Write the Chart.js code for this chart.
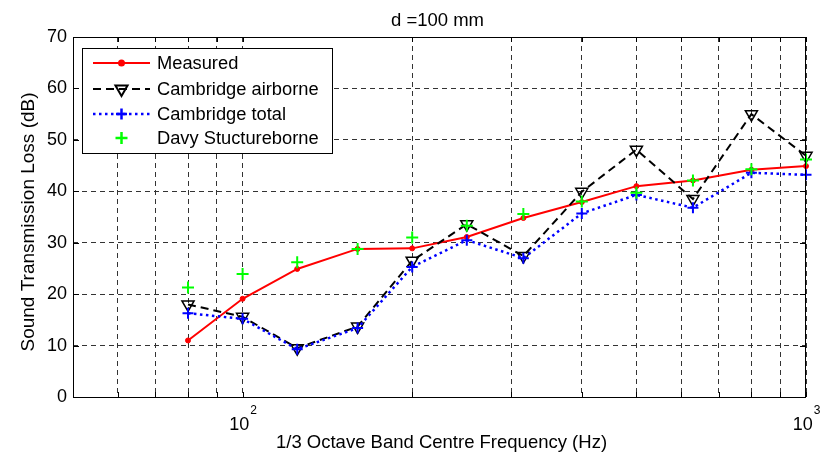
<!DOCTYPE html>
<html>
<head>
<meta charset="utf-8">
<script src="https://cdn.jsdelivr.net/npm/chart.js@4/dist/chart.umd.min.js"></script>
<style>
  body { margin: 0; background: #fff; }
  #wrap { width: 823px; height: 461px; position: relative; }
</style>
</head>
<body>
<div id="wrap"><canvas id="chart"></canvas></div>
<script>
// 1/3 octave band centre frequencies (Hz)
const freqs = [80, 100, 125, 160, 200, 250, 315, 400, 500, 630, 800, 1000];
const measured = [11, 19.1, 24.9, 28.8, 28.9, 31.1, 34.8, 37.9, 41, 42.1, 44.2, 44.9];
const cambridgeAirborne = [18, 15.6, 9.5, 13.7, 26.5, 33.6, 27.4, 39.9, 48.1, 38.5, 55, 46.9];
const cambridgeTotal = [16.3, 15.2, 9.3, 13.4, 25.3, 30.5, 27, 35.7, 39.3, 36.8, 43.6, 43.2];
const davyStructureborne = [21.3, 23.9, 26.2, 28.8, 31, 33.3, 35.6, 38, 39.7, 42.1, 44.3, 46.2];

const xGridTicks = [60, 70, 80, 90, 100, 200, 300, 400, 500, 600, 700, 800, 900, 1000];
const xLabelTicks = [{ value: 100, base: '10', exp: '2' }, { value: 1000, base: '10', exp: '3' }];
const yTicks = [0, 10, 20, 30, 40, 50, 60, 70];

const FONT = '"Liberation Sans", Arial, Helvetica, sans-serif';
Chart.defaults.font.family = FONT;

const pts = vals => freqs.map((f, i) => ({ x: f, y: vals[i] }));

const matlabAxes = {
  id: 'matlabAxes',
  afterDraw(chart) {
    const ctx = chart.ctx;
    const { left, right, top, bottom } = chart.chartArea;
    const xs = chart.scales.x, ys = chart.scales.y;
    ctx.save();

    // box
    ctx.strokeStyle = '#000';
    ctx.lineWidth = 1;
    ctx.setLineDash([]);
    ctx.strokeRect(left + 0.5, top + 0.5, right - left - 1, bottom - top);

    // inner ticks
    ctx.beginPath();
    xGridTicks.forEach(v => {
      const px = Math.round(xs.getPixelForValue(v)) + 0.5;
      ctx.moveTo(px, bottom); ctx.lineTo(px, bottom - 5);
      ctx.moveTo(px, top); ctx.lineTo(px, top + 5);
    });
    yTicks.forEach(v => {
      const py = Math.round(ys.getPixelForValue(v)) + 0.5;
      ctx.moveTo(left, py); ctx.lineTo(left + 6, py);
      ctx.moveTo(right, py); ctx.lineTo(right - 6, py);
    });
    ctx.stroke();

    // x tick labels with exponents
    ctx.fillStyle = '#000';
    ctx.textBaseline = 'alphabetic';
    ctx.textAlign = 'left';
    xLabelTicks.forEach(t => {
      ctx.font = '18px ' + FONT;
      const wb = ctx.measureText(t.base).width;
      ctx.font = '12px ' + FONT;
      const we = ctx.measureText(t.exp).width;
      const px = xs.getPixelForValue(t.value);
      const x0 = px - (wb + we) / 2;
      ctx.font = '18px ' + FONT;
      ctx.fillText(t.base, x0, 430);
      ctx.font = '12px ' + FONT;
      ctx.fillText(t.exp, x0 + wb + 1, 414);
    });

    // titles
    ctx.textAlign = 'center';
    ctx.font = '18.5px ' + FONT;
    ctx.fillText('d =100 mm', (left + right) / 2 - 2, 26);
    ctx.fillText('1/3 Octave Band Centre Frequency (Hz)', (left + right) / 2 + 2, 448);
    ctx.save();
    ctx.translate(29, 222);
    ctx.rotate(-Math.PI / 2);
    ctx.textBaseline = 'middle';
    ctx.font = '19px ' + FONT;
    ctx.fillText('Sound Transmission Loss (dB)', 0, 0);
    ctx.restore();

    // legend
    const lx = 82, ly = 48, lw = 250, lh = 105;
    ctx.fillStyle = '#fff';
    ctx.fillRect(lx, ly, lw, lh);
    ctx.strokeStyle = '#000';
    ctx.lineWidth = 1;
    ctx.strokeRect(lx + 0.5, ly + 0.5, lw, lh);
    const rows = [63, 89, 114, 138];
    chart.data.datasets.forEach((ds, i) => {
      const y = rows[i];
      if (ds.showLine !== false) {
        ctx.beginPath();
        ctx.strokeStyle = ds.borderColor;
        ctx.lineWidth = ds.borderWidth;
        ctx.setLineDash(ds.borderDash || []);
        ctx.moveTo(93, y); ctx.lineTo(150, y);
        ctx.stroke();
      }
      ctx.setLineDash([]);
      ctx.strokeStyle = ds.pointBorderColor;
      ctx.fillStyle = ds.pointBackgroundColor;
      Chart.helpers.drawPoint(ctx, {
        pointStyle: ds.pointStyle, radius: ds.pointRadius,
        rotation: ds.pointRotation || 0, borderWidth: ds.pointBorderWidth
      }, 121.5, y);
      ctx.fillStyle = '#000';
      ctx.font = '18.3px ' + FONT;
      ctx.textAlign = 'left';
      ctx.textBaseline = 'middle';
      ctx.fillText(ds.label, 157, y + 1);
    });
    ctx.restore();
  }
};

new Chart(document.getElementById('chart'), {
  type: 'line',
  data: {
    datasets: [
      {
        label: 'Measured', data: pts(measured), order: 4, clip: false,
        borderColor: '#ff0000', borderWidth: 2, borderDash: [],
        pointStyle: 'circle', pointRadius: 2.5, pointBorderWidth: 1,
        pointBorderColor: '#ff0000', pointBackgroundColor: '#ff0000'
      },
      {
        label: 'Cambridge airborne', data: pts(cambridgeAirborne), order: 3, clip: false,
        borderColor: '#000', borderWidth: 2, borderDash: [8, 5],
        pointStyle: 'triangle', pointRotation: 180, pointRadius: 7, pointBorderWidth: 1.5,
        pointBorderColor: '#000', pointBackgroundColor: 'rgba(0,0,0,0)'
      },
      {
        label: 'Cambridge total', data: pts(cambridgeTotal), order: 2, clip: false,
        borderColor: '#0000ff', borderWidth: 2.5, borderDash: [2.5, 3.5],
        pointStyle: 'cross', pointRadius: 5.5, pointBorderWidth: 2,
        pointBorderColor: '#0000ff', pointBackgroundColor: '#0000ff'
      },
      {
        label: 'Davy Stuctureborne', data: pts(davyStructureborne), order: 1, clip: false,
        showLine: false, borderColor: '#00ff00', borderWidth: 0,
        pointStyle: 'cross', pointRadius: 6, pointBorderWidth: 2,
        pointBorderColor: '#00ff00', pointBackgroundColor: '#00ff00'
      }
    ]
  },
  options: {
    responsive: true,
    maintainAspectRatio: false,
    animation: false,
    layout: { padding: { top: 37, right: 17, left: 0, bottom: 0 } },
    plugins: { legend: { display: false }, tooltip: { enabled: false } },
    scales: {
      x: {
        type: 'logarithmic', min: 50, max: 1000,
        afterBuildTicks: s => { s.ticks = xGridTicks.map(v => ({ value: v })); },
        afterFit: s => { s.height = 64; },
        ticks: { callback: () => '', font: { size: 18 } },
        grid: { color: '#333', lineWidth: 1, drawTicks: false },
        border: { display: false, dash: [5, 4] }
      },
      y: {
        min: 0, max: 70,
        afterBuildTicks: s => { s.ticks = yTicks.map(v => ({ value: v })); },
        afterFit: s => { s.width = 73; },
        ticks: { color: '#000', font: { size: 18 }, padding: 6 },
        grid: { color: '#333', lineWidth: 1, drawTicks: false },
        border: { display: false, dash: [5, 4] }
      }
    }
  },
  plugins: [matlabAxes]
});
</script>
</body>
</html>
